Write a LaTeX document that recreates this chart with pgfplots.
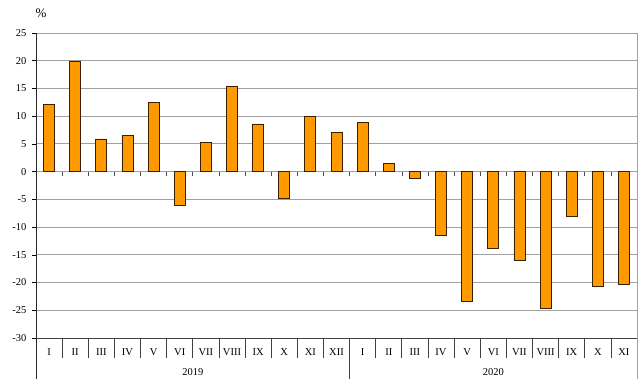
\documentclass[border=0pt]{standalone}
\usepackage{fontspec}
\setmainfont{Liberation Serif}
\usepackage{pgfplots}
\pgfplotsset{compat=1.18}
\definecolor{barfill}{HTML}{FF9900}
\definecolor{baredge}{HTML}{3A2000}
\definecolor{gridc}{HTML}{A0A0A0}
\begin{document}
\begin{tikzpicture}
\begin{axis}[
  scale only axis,
  width=601pt, height=305pt,
  xmin=-0.5, xmax=22.5, ymin=-30, ymax=25,
  ytick={-30,-25,...,25},
  xtick={0,...,22},
  xticklabels={I,II,III,IV,V,VI,VII,VIII,IX,X,XI,XII,I,II,III,IV,V,VI,VII,VIII,IX,X,XI},
  xtick style={draw=none},
  ytick pos=left,
  ytick style={black, line width=0.6pt},
  tick align=outside,
  major tick length=4pt,
  axis line style={draw=none},
  ymajorgrids,
  grid style={gridc, line width=0.9pt},
  /pgf/number format/assume math mode=true,
  ticklabel style={font=\fontsize{10.5}{12}\selectfont, black},
  yticklabel style={xshift=-2pt},
  xticklabel style={yshift=-3pt},
  clip=false,
]
\addplot[ybar, bar width=11pt, fill=barfill, draw=baredge, line width=0.8pt] coordinates {
(0,12.1) (1,19.9) (2,5.9) (3,6.5) (4,12.5) (5,-6.1) (6,5.2) (7,15.4) (8,8.6) (9,-4.9) (10,10.0) (11,7.1)
(12,8.9) (13,1.4) (14,-1.3) (15,-11.5) (16,-23.4) (17,-13.8) (18,-16.0) (19,-24.6) (20,-8.1) (21,-20.7) (22,-20.4)
};
\pgfplotsinvokeforeach{0.5,1.5,...,21.5}{
  \draw[black!70, line width=0.6pt] (axis cs:#1,0) -- ([yshift=-4pt]axis cs:#1,0);
  \draw[black!75, line width=0.7pt] (axis cs:#1,-30) -- ([yshift=-20pt]axis cs:#1,-30);
}
\draw[black!75, line width=0.7pt] (axis cs:-0.5,-30) -- (axis cs:22.5,-30);
\draw[black!75, line width=0.7pt] (axis cs:11.5,-30) -- ([yshift=-41pt]axis cs:11.5,-30);
\draw[gridc, line width=0.9pt] (axis cs:-0.5,25) -- (axis cs:22.5,25) -- ([yshift=-41pt]axis cs:22.5,-30);
\draw[black!85, line width=0.8pt] (axis cs:-0.5,25) -- ([yshift=-41pt]axis cs:-0.5,-30);
\node[font=\fontsize{10.5}{12}\selectfont] at ([yshift=-34pt]axis cs:5.5,-30) {2019};
\node[font=\fontsize{10.5}{12}\selectfont] at ([yshift=-34pt]axis cs:17,-30) {2020};
\node[font=\fontsize{13}{14}\selectfont] at ([shift={(5pt,20pt)}]rel axis cs:0,1) {\%};
\end{axis}
\pgfresetboundingbox
\path[use as bounding box] ([shift={(-36pt,-54pt)}]current axis.south west) rectangle ([shift={(7pt,33pt)}]current axis.north east);
\end{tikzpicture}
\end{document}
